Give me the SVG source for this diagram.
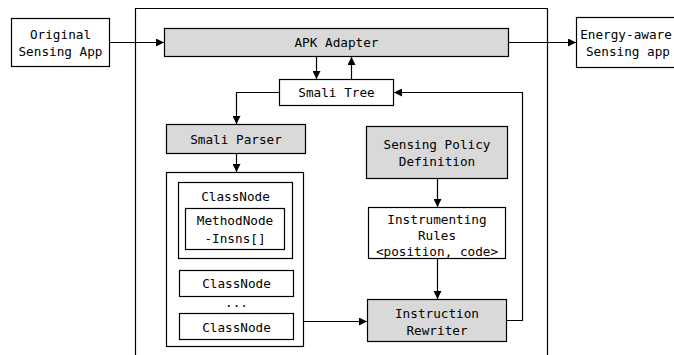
<svg xmlns="http://www.w3.org/2000/svg" width="674" height="355" viewBox="0 0 674 355">
<defs>
<marker id="ah" viewBox="0 0 10 10" refX="10" refY="5" markerWidth="8" markerHeight="8" markerUnits="userSpaceOnUse" orient="auto">
<path d="M0,0 L10,5 L0,10 z" fill="#000"/>
</marker>
</defs>
<style>
.b{stroke:#000;stroke-width:1.2;fill:#fff}
.g{fill:#d9d9d9}
text{font-family:"DejaVu Sans Mono","Liberation Mono",monospace;font-size:12.7px;fill:#000;text-anchor:middle;dominant-baseline:central}
.c{fill:none;stroke:#000;stroke-width:1.2}
.a{marker-end:url(#ah)}
</style>
<rect width="674" height="355" fill="#fff"/>
<path class="c" d="M135.5,360 V8.5 H547.5 V360"/>
<g id="original"><rect class="b" x="11.5" y="18.5" width="98" height="48"/><text x="60.5" y="34">Original</text><text x="60.5" y="51">Sensing App</text></g>
<g id="apk"><rect class="b g" x="164.5" y="28.5" width="344" height="28"/><text x="336.5" y="42.5">APK Adapter</text></g>
<g id="energy"><rect class="b" x="576.5" y="17.5" width="110" height="50"/><text x="626" y="34">Energy-aware</text><text x="628" y="51.5">Sensing app</text></g>
<g id="smalitree"><rect class="b" x="279.5" y="79.5" width="114" height="26"/><text x="336.5" y="92.5">Smali Tree</text></g>
<g id="parser"><rect class="b g" x="166.5" y="124.5" width="139" height="29"/><text x="236" y="139">Smali Parser</text></g>
<g id="container"><rect class="b" x="166.5" y="172.5" width="137" height="174"/>
<rect class="b" x="178.5" y="182.5" width="114" height="76"/><text x="235.5" y="196">ClassNode</text>
<rect class="b" x="185.5" y="208.5" width="99" height="41"/><text x="235" y="220">MethodNode</text><text x="235" y="238">-Insns[]</text>
<rect class="b" x="179.5" y="270.5" width="114" height="26"/><text x="236.5" y="283.5">ClassNode</text>
<text x="236.5" y="302">...</text>
<rect class="b" x="179.5" y="313.5" width="114" height="26"/><text x="236.5" y="327">ClassNode</text>
</g>
<g id="policy"><rect class="b g" x="366.5" y="126.5" width="141" height="52"/><text x="437" y="144">Sensing Policy</text><text x="437" y="161">Definition</text></g>
<g id="rules"><rect class="b" x="368.5" y="207.5" width="137" height="51"/><text x="437" y="219">Instrumenting</text><text x="437" y="235">Rules</text><text x="437" y="251">&lt;position, code&gt;</text></g>
<g id="rewriter"><rect class="b g" x="367.5" y="299.5" width="139" height="42"/><text x="437" y="313">Instruction</text><text x="437" y="330">Rewriter</text></g>
<g id="connectors">
<path class="c a" d="M110,42.5 H164"/>
<path class="c a" d="M509,42.5 H576"/>
<path class="c a" d="M316.5,57 V79"/>
<path class="c a" d="M351.5,79 V57"/>
<path class="c a" d="M279,92.5 H236.5 V124"/>
<path class="c a" d="M236.5,154 V172"/>
<path class="c a" d="M437.5,179 V207"/>
<path class="c a" d="M437.5,259 V299"/>
<path class="c a" d="M304,321.5 H367"/>
<path class="c a" d="M507,320.5 H522.5 V92.5 H394"/>
</g>
</svg>
